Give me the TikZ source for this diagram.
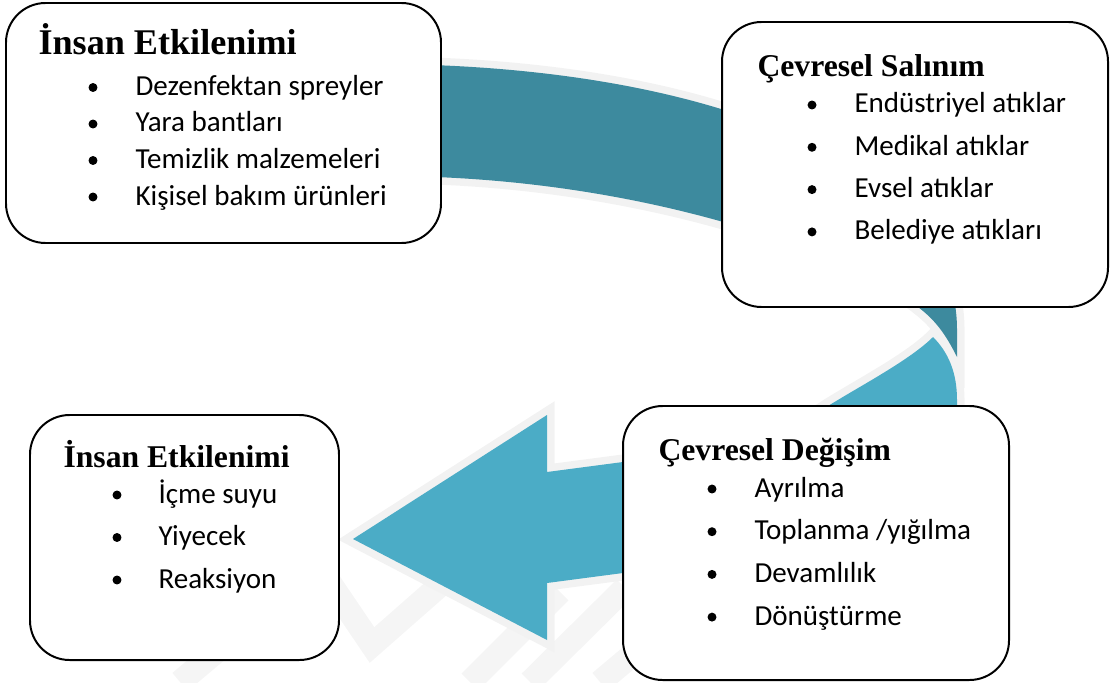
\documentclass[tikz,border=0pt]{standalone}
\usepackage{fontspec}
\setmainfont{Liberation Serif}
\newfontfamily\itemfont{Carlito}
\usetikzlibrary{fit}

\definecolor{darkteal}{RGB}{61,138,158}
\definecolor{lightteal}{RGB}{75,172,198}
\definecolor{rimgray}{RGB}{242,242,242}
\definecolor{wmgray}{RGB}{245,245,245}

\tikzset{
  card/.style={draw, line width=0.75pt, rounded corners=15pt, fill=white, inner sep=0pt},
  cardtitle/.style={anchor=base west, inner sep=0pt, font=\fontsize{12}{14}\selectfont\bfseries},
  entry/.style={anchor=base west, inner sep=0pt, font=\itemfont\fontsize{11}{13}\selectfont},
  itemdot/.style={circle, fill=black, inner sep=0pt, minimum size=3.4pt},
  band/.style={line join=round, preaction={draw=rimgray, line width=5.7pt}},
  wmark/.style={draw=wmgray, line width=9pt},
}

\begin{document}
\begin{tikzpicture}[x=0.379pt, y=-0.379pt]
  \useasboundingbox (0,0) rectangle (1111,682);

  % faint background stripes
  \draw[wmark] (180,682) -- (280,598);
  \draw[wmark] (330,583) -- (372,645) -- (455,572);
  \draw[wmark] (470,682) -- (560,592);
  \draw[wmark] (530,682) -- (625,588);
  \draw[wmark] (600,682) -- (650,640);

  % dark swoosh, top
  \path[band, fill=darkteal] (380,64) .. controls (700,65) and (957,160) .. (957,330)
    -- (957,357) .. controls (945,333) and (935,320) .. (918,307)
    .. controls (860,260) and (650,175) .. (380,176) -- cycle;

  % light arrow, bottom
  \path[band, fill=lightteal] (933,337) .. controls (948,352) and (957,372) .. (957,400)
    -- (957,430) .. controls (957,540) and (760,565) .. (623,573)
    -- (547,583) -- (547,640) -- (353,539) -- (547,415) -- (547,472) -- (623,462)
    .. controls (720,450) and (790,432) .. (828,406)
    .. controls (860,386) and (910,360) .. (933,337) -- cycle;

  % boxes
  \node[card, fit={(6,3) (441,243)}] (hum1) {};
  \node[card, fit={(722,22) (1108,307)}] (rel) {};
  \node[card, fit={(623,406) (1009,680)}] (chg) {};
  \node[card, fit={(30,415) (339,660)}] (hum2) {};

  % box texts
  \node[cardtitle, font=\fontsize{13.7}{16}\selectfont\bfseries] (hum1-title) at (38,55) {İnsan Etkilenimi};
  \foreach \txt [count=\i] in {Dezenfektan spreyler, Yara bantları, Temizlik malzemeleri, Kişisel bakım ürünleri}{
    \node[itemdot] (hum1-b\i) at (93,{87.5+36.5*(\i-1)}) {};
    \node[entry] (hum1-\i) at (135,{95.5+36.5*(\i-1)}) {\txt};
  }

  \node[cardtitle] (rel-title) at (757,76) {Çevresel Salınım};
  \foreach \txt [count=\i] in {Endüstriyel atıklar, Medikal atıklar, Evsel atıklar, Belediye atıkları}{
    \node[itemdot] (rel-b\i) at (812,{105+42.3*(\i-1)}) {};
    \node[entry] (rel-\i) at (854,{113+42.3*(\i-1)}) {\txt};
  }

  \node[cardtitle] (chg-title) at (658,460) {Çevresel Değişim};
  \foreach \txt [count=\i] in {Ayrılma, Toplanma /yığılma, Devamlılık, Dönüştürme}{
    \node[itemdot] (chg-b\i) at (712,{489+42.7*(\i-1)}) {};
    \node[entry] (chg-\i) at (754,{497+42.7*(\i-1)}) {\txt};
  }

  \node[cardtitle] (hum2-title) at (63,467) {İnsan Etkilenimi};
  \foreach \txt [count=\i] in {İçme suyu, Yiyecek, Reaksiyon}{
    \node[itemdot] (hum2-b\i) at (117,{495+42.5*(\i-1)}) {};
    \node[entry] (hum2-\i) at (158,{503+42.5*(\i-1)}) {\txt};
  }
\end{tikzpicture}
\end{document}
